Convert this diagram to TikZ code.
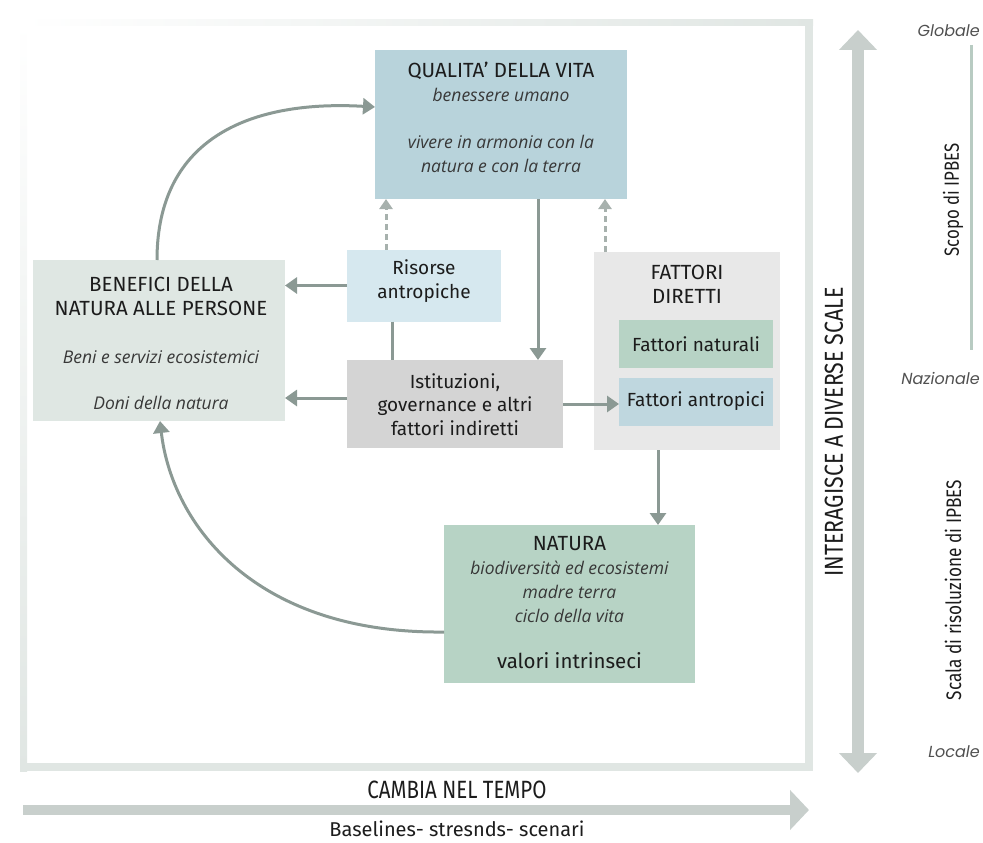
\documentclass[tikz,border=0pt]{standalone}
\usepackage{fontspec}
\setmainfont{Fira Sans}
\newfontfamily\itfam{Open Sans}
\newfontfamily\geofam{Poppins}
\newfontfamily\condfam[FakeStretch=0.82]{Fira Sans}
\usetikzlibrary{arrows.meta}

\definecolor{qblue}{HTML}{B8D3DB}
\definecolor{bengreen}{HTML}{DFE7E3}
\definecolor{risblue}{HTML}{D6E8EF}
\definecolor{istgrey}{HTML}{D4D4D4}
\definecolor{fatgrey}{HTML}{E8E8E8}
\definecolor{natgreen}{HTML}{B7D3C5}
\definecolor{fatblue}{HTML}{BFD7DF}
\definecolor{linec}{HTML}{8B9994}
\definecolor{dashc}{HTML}{A7B1AD}
\definecolor{bigarrow}{HTML}{C8CFCC}
\definecolor{framec}{HTML}{E0E6E3}
\definecolor{scopec}{HTML}{B8CBC2}
\definecolor{txtc}{HTML}{1C1C1C}
\definecolor{itc}{HTML}{383838}
\definecolor{scalec}{HTML}{505050}

\newcommand{\fstitle}{\fontsize{20.5}{24}\selectfont}
\newcommand{\fsbody}{\fontsize{19}{23.5}\selectfont}
\newcommand{\itx}[1]{{\color{itc}\itfam\itshape\fontsize{17.5}{24}\selectfont #1}}

\tikzset{
  box/.style={rectangle, inner sep=0pt, outer sep=0pt},
  txt/.style={text=txtc, align=center, inner sep=0pt},
  conn/.style={draw=linec, line width=3pt, -{Triangle[length=12pt,width=16pt]}},
  plainconn/.style={draw=linec, line width=3pt},
  dashconn/.style={draw=dashc, line width=3pt, dash pattern=on 6pt off 4pt,
    -{Triangle[length=10pt,width=13pt]}},
  bigconn/.style={draw=bigarrow, line width=12pt},
  scaletxt/.style={text=scalec, inner sep=0pt, font=\geofam\itshape\fontsize{16}{18}\selectfont},
  sidetxt/.style={text=txtc, inner sep=0pt, rotate=90, font=\condfam\fontsize{26}{28}\selectfont},
}

\begin{document}
\begin{tikzpicture}[x=1pt, y=-1pt]
\useasboundingbox (0,0) rectangle (983,843);

% outer frame, faint on top/left and heavier on right/bottom
\shade[left color=white, right color=framec] (22,20) rectangle (813,26);
\shade[top color=white, bottom color=framec] (20,20) rectangle (27,771);
\fill[framec] (805,20) rectangle (813,771);
\fill[framec] (20,763) rectangle (813,771);

% boxes
\node[box, fill=qblue, minimum width=252pt, minimum height=149pt] (qual) at (501,124.5) {};
\node[box, fill=bengreen, minimum width=252pt, minimum height=161pt] (ben) at (159,340.5) {};
\node[box, fill=risblue, minimum width=154pt, minimum height=72pt] (ris) at (424,285.5) {};
\node[box, fill=istgrey, minimum width=216pt, minimum height=88pt] (ist) at (455,404) {};
\node[box, fill=fatgrey, minimum width=186pt, minimum height=198pt] (fat) at (687,351) {};
\node[box, fill=natgreen, minimum width=154pt, minimum height=48pt] (fatnat) at (696,344) {};
\node[box, fill=fatblue, minimum width=154pt, minimum height=48pt] (fatant) at (696,401.5) {};
\node[box, fill=natgreen, minimum width=251pt, minimum height=158pt] (nat) at (569.5,604) {};

% box texts
\node[txt, font=\fstitle] (qualtxt) at (501,117) {QUALITA' DELLA VITA\\ \itx{benessere umano}\\[23pt]
  \itx{vivere in armonia con la}\\ \itx{natura e con la terra}};
\node[txt, font=\fstitle] (bentxt) at (161,343) {BENEFICI DELLA\\ NATURA ALLE PERSONE\\[24pt]
  \itx{Beni e servizi ecosistemici}\\[22pt] \itx{Doni della natura}};
\node[txt, font=\fsbody] (ristxt) at (424,281) {Risorse\\ antropiche};
\node[txt, font=\fsbody] (isttxt) at (455,404.5) {Istituzioni,\\ governance e altri\\ fattori indiretti};
\node[txt, font=\fstitle] (fattxt) at (687,284.5) {FATTORI\\ DIRETTI};
\node[txt, font=\fsbody] (fatnattxt) at (fatnat) {Fattori naturali};
\node[txt, font=\fsbody] (fatanttxt) at (fatant) {Fattori antropici};
\node[txt, font=\fstitle] (nattxt) at (569.5,603) {NATURA\\ \itx{biodiversità ed ecosistemi}\\
  \itx{madre terra}\\ \itx{ciclo della vita}\\[22pt] valori intrinseci};

% connectors
\draw[conn] ([xshift=-2pt]ben.north) .. controls (157,135) and (255,100) .. ([yshift=17.5pt]qual.west);
\draw[conn] ([yshift=-28pt]nat.west) .. controls (255,634) and (172,525) .. ([xshift=1pt]ben.south);
\draw[conn] (ris.west) -- (ris.west -| ben.east);
\draw[conn] ([yshift=6pt]ist.west) -- ([yshift=6pt]ist.west -| ben.east);
\draw[plainconn] ([xshift=-32pt]ris.south) -- ([xshift=-32pt]ris.south |- ist.north);
\draw[conn] ([xshift=37pt]qual.south) -- ([xshift=37pt]qual.south |- ist.north);
\draw[dashconn] ([xshift=-38pt]ris.north) -- ([xshift=-38pt]ris.north |- qual.south);
\draw[dashconn] ([xshift=-82pt]fat.north) -- ([xshift=-82pt]fat.north |- qual.south);
\draw[conn] (ist.east) -- (ist.east -| fatant.west);
\draw[conn] ([xshift=-29pt]fat.south) -- ([xshift=-29pt]fat.south |- nat.north);

% scale arrow on the right
\coordinate (scaletop) at (858,30);
\coordinate (scalebot) at (858,773);
\draw[bigconn, {Triangle[length=20pt,width=37pt]}-{Triangle[length=20pt,width=37pt]}] (scalebot) -- (scaletop);
\node[sidetxt] (interag) at (834,432) {INTERAGISCE A DIVERSE SCALE};

% time arrow at the bottom
\coordinate (timestart) at (23,810);
\coordinate (timeend) at (809,810);
\draw[bigconn, line width=10pt, -{Triangle[length=19pt,width=39pt]}] (timestart) -- (timeend);
\node[txt, font=\condfam\fontsize{25}{28}\selectfont] (cambia) at (457,790) {CAMBIA NEL TEMPO};
\node[txt, font=\fontsize{20}{23}\selectfont] (baselines) at (457,828.5) {Baselines- stresnds- scenari};

% scale labels
\node[scaletxt, anchor=east] (globale) at (980,31) {Globale};
\node[scaletxt, anchor=east] (nazionale) at (980,378) {Nazionale};
\node[scaletxt, anchor=east] (locale) at (980,752) {Locale};
\coordinate (scopotop) at (971,45);
\coordinate (scopobot) at (971,350);
\draw[draw=scopec, line width=3pt] (scopotop) -- (scopobot);
\node[sidetxt, font=\condfam\fontsize{20.5}{22}\selectfont] (scopo) at (953,200) {Scopo di IPBES};
\node[sidetxt, font=\condfam\fontsize{21}{22}\selectfont] (scala) at (953,590) {Scala di risoluzione di IPBES};
\end{tikzpicture}
\end{document}
